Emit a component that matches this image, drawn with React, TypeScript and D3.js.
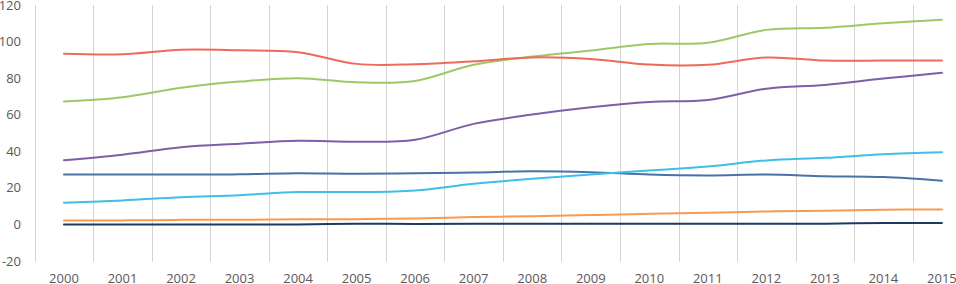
import React from "react";
import * as d3 from "d3";

const years = ["2000","2001","2002","2003","2004","2005","2006","2007","2008","2009","2010","2011","2012","2013","2014","2015"];
const yTicks = [-20, 0, 20, 40, 60, 80, 100, 120];

const navy = [0, 0, 0, 0, 0, 0.4, 0.3, 0.4, 0.4, 0.4, 0.4, 0.4, 0.4, 0.4, 0.8, 0.8];
const orange = [2.2, 2.2, 2.5, 2.5, 2.8, 2.9, 3.3, 4.0, 4.5, 5.1, 5.8, 6.4, 7.1, 7.5, 8.0, 8.2];
const cyan = [11.9, 13.1, 14.9, 16.0, 17.7, 17.7, 18.6, 22.2, 25.0, 27.3, 29.5, 31.7, 35.0, 36.4, 38.4, 39.5];
const blue = [27.3, 27.3, 27.3, 27.4, 28.0, 27.7, 28.0, 28.4, 29.1, 28.6, 27.3, 26.8, 27.3, 26.4, 25.9, 23.9];
const purple = [35.1, 38.1, 42.2, 44.1, 45.7, 45.2, 46.3, 55.0, 60.1, 64.1, 67.0, 68.1, 74.2, 76.3, 79.8, 82.9];
const green = [67.2, 69.6, 74.7, 78.1, 80.0, 77.8, 78.5, 87.3, 91.8, 95.1, 98.7, 99.3, 106.4, 107.5, 110.0, 112.0];
const red = [93.3, 93.0, 95.5, 95.2, 94.2, 87.8, 87.6, 89.2, 91.3, 90.5, 87.4, 87.3, 91.3, 89.6, 89.6, 89.6];

const seriesList = [
  { name: "blue", values: blue, color: "#4A72A8" },
  { name: "cyan", values: cyan, color: "#3DBFE8" },
  { name: "purple", values: purple, color: "#7B5FA8" },
  { name: "green", values: green, color: "#9DC868" },
  { name: "red", values: red, color: "#EE6A5A" },
  { name: "orange", values: orange, color: "#F59B52" },
  { name: "navy", values: navy, color: "#1F3A5F" },
];

const W = 956;
const H = 284;

export default function App() {
  const x = d3.scaleBand<string>().domain(years).range([34.7, 971.2]).padding(0);
  const y = d3.scaleLinear().domain([-20, 120]).range([261, 5]);
  const cx = (i: number) => (x(years[i]) as number) + x.bandwidth() / 2;
  const line = d3
    .line<number>()
    .x((_, i) => cx(i))
    .y((v) => y(v))
    .curve(d3.curveCatmullRom.alpha(0.5));

  const gridXs = years.map((yr) => x(yr) as number).concat([(x(years[years.length - 1]) as number) + x.bandwidth()]);

  return (
    <svg
      width={W}
      height={H}
      style={{ position: "absolute", left: 0, top: 0, background: "#fff" }}
      fontFamily="'Open Sans', sans-serif"
    >
      {gridXs.map((gx, i) => (
        <line key={i} x1={Math.round(gx) + 0.5} x2={Math.round(gx) + 0.5} y1={5} y2={262} stroke="#D4D4D4" strokeWidth={1} />
      ))}
      {yTicks.map((t) => (
        <text key={t} x={21} y={y(t)} dy="0.35em" textAnchor="end" fontSize={13} fill="#595959">
          {t}
        </text>
      ))}
      {years.map((yr, i) => (
        <text key={yr} x={cx(i)} y={278} dy="0.35em" textAnchor="middle" fontSize={13} fill="#595959">
          {yr}
        </text>
      ))}
      {seriesList.map((s) => (
        <path key={s.name} d={line(s.values) || ""} fill="none" stroke={s.color} strokeWidth={2} strokeLinecap="round" />
      ))}
    </svg>
  );
}
